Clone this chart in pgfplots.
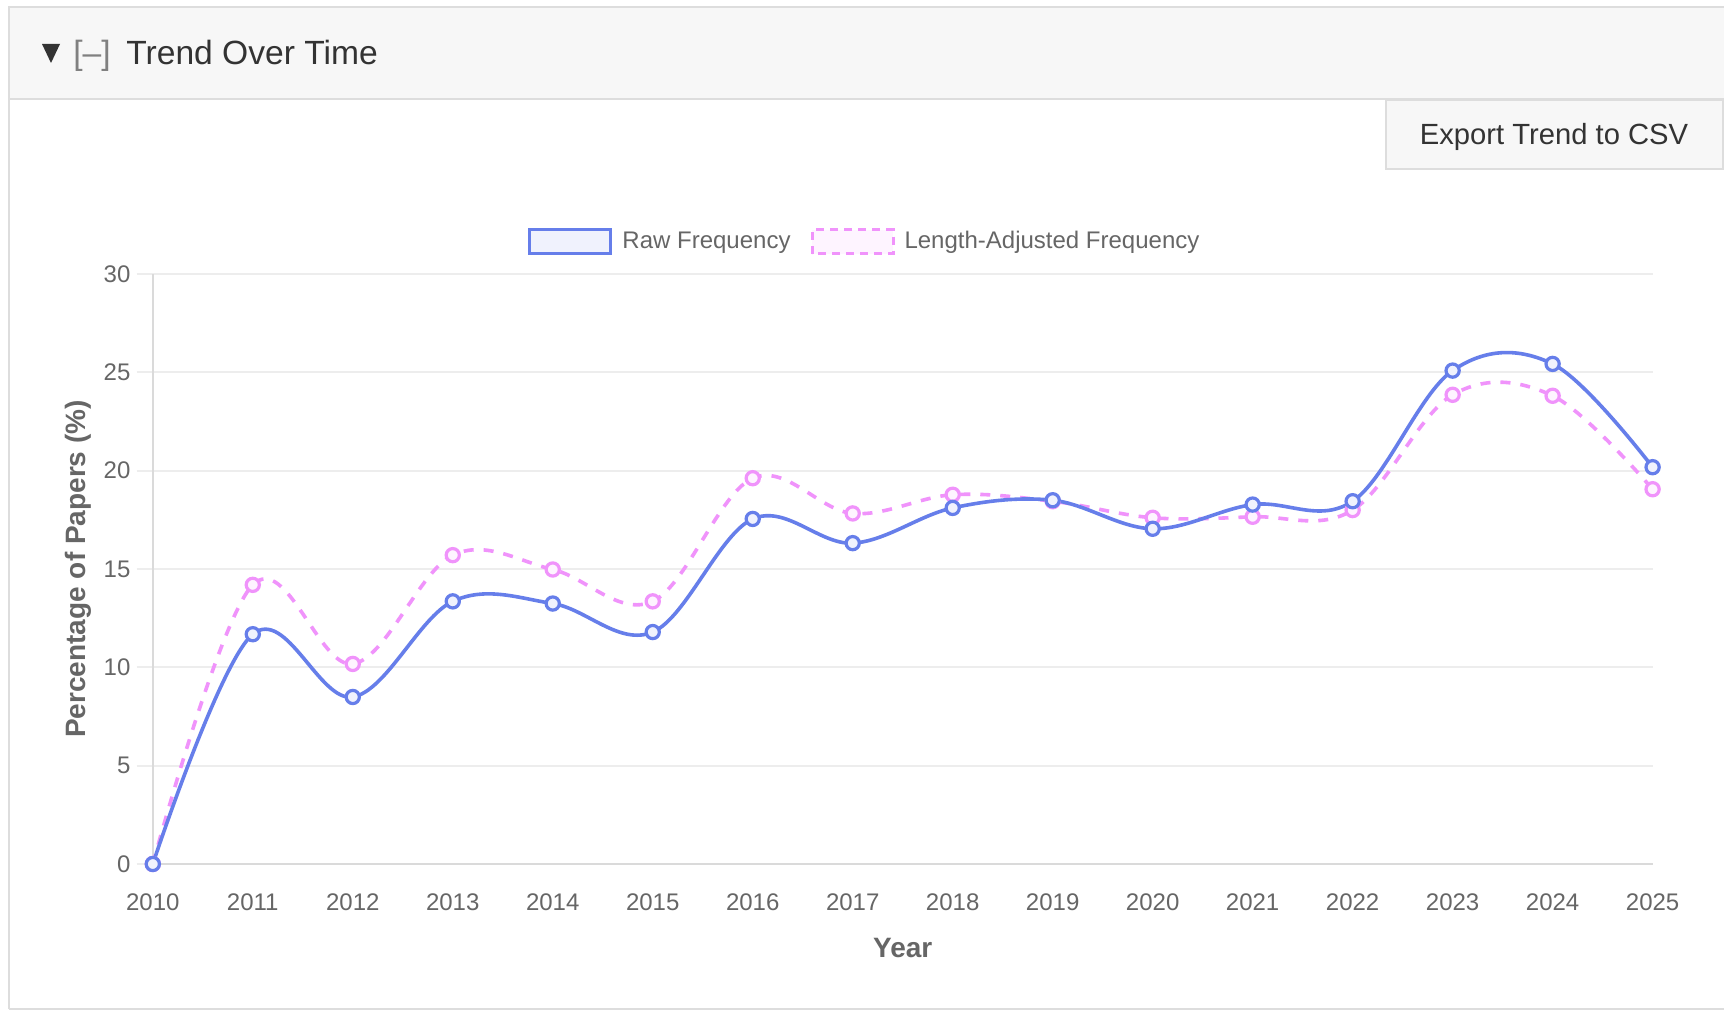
\documentclass[border=0pt]{standalone}
\usepackage{fontspec}
\setmainfont{Liberation Sans}
\usepackage{pgfplots}
\usepackage{pgfplotstable}
\pgfplotsset{compat=1.18}

\definecolor{rawc}{RGB}{102,126,234}
\definecolor{adjc}{RGB}{240,147,251}
\definecolor{rawfill}{RGB}{240,242,253}
\definecolor{adjfill}{RGB}{254,244,255}
\definecolor{txt}{HTML}{666666}
\definecolor{dark}{HTML}{333333}
\definecolor{hdr}{HTML}{F7F7F7}
\definecolor{bord}{HTML}{DDDDDD}
\definecolor{gridc}{HTML}{EDEDED}
\definecolor{axisc}{HTML}{DADADA}

% year, raw frequency, length-adjusted frequency (%)
\pgfplotstableread{
year raw   adj
2010 0.00  0.00
2011 11.68 14.19
2012 8.49  10.17
2013 13.35 15.70
2014 13.24 14.97
2015 11.79 13.35
2016 17.54 19.61
2017 16.31 17.82
2018 18.10 18.77
2019 18.49 18.44
2020 17.04 17.60
2021 18.27 17.65
2022 18.44 17.99
2023 25.08 23.85
2024 25.42 23.80
2025 20.17 19.05
}\trend

\begin{document}
\begin{tikzpicture}
\useasboundingbox (0pt,0pt) rectangle (862pt,-505.5pt);
\fill[white] (0pt,0pt) rectangle (862pt,-505.5pt);

% header bar
\fill[hdr] (4.5pt,-3.5pt) rectangle (862pt,-49.5pt);
\draw[bord, line width=1pt] (4.5pt,-504.5pt) -- (4.5pt,-3.5pt) -- (862pt,-3.5pt);
\draw[bord, line width=1pt] (4.5pt,-49.5pt) -- (862pt,-49.5pt);
\draw[bord, line width=1pt] (4.5pt,-504.5pt) -- (862pt,-504.5pt);
\fill[dark] (21pt,-22pt) -- (30pt,-22pt) -- (25.5pt,-31.5pt) -- cycle;
\node[anchor=base west, inner sep=0pt, text=gray, font=\fontsize{16.8pt}{20pt}\selectfont]
  at (36.5pt,-32.5pt) {[\textendash]};
\node[anchor=base west, inner sep=0pt, text=dark, font=\fontsize{16.8pt}{20pt}\selectfont]
  at (63pt,-32.5pt) {Trend Over Time};

% export button
\filldraw[fill=hdr, draw=bord, line width=1pt] (693pt,-50pt) rectangle (861.5pt,-84.5pt);
\node[anchor=base, inner sep=0pt, text=dark, font=\fontsize{14.6pt}{17pt}\selectfont]
  at (777pt,-72.5pt) {Export Trend to CSV};

\begin{axis}[
    at={(76.4pt,-432pt)}, anchor=south west,
    scale only axis,
    width=749.9pt, height=295.1pt,
    xmin=2010, xmax=2025, ymin=0, ymax=30,
    xtick={2010,2011,...,2025},
    ytick={0,5,...,30},
    /pgf/number format/assume math mode=true,
    /pgf/number format/1000 sep={},
    axis x line*=bottom, axis y line*=left,
    axis line style={draw=axisc, line width=1pt, -},
    ymajorgrids, major grid style={draw=gridc, line width=1pt},
    tick align=outside, major tick length=8pt,
    ytick style={draw=gridc, line width=1pt},
    xtick style={draw=none},
    tick label style={text=txt, font=\fontsize{12pt}{14pt}\selectfont},
    xticklabel style={anchor=base, yshift=-15pt},
    yticklabel style={anchor=east, inner sep=0pt, xshift=-3pt},
    xlabel={Year},
    ylabel={Percentage of Papers (\%)},
    label style={text=txt, font=\fontsize{14pt}{17pt}\selectfont\bfseries},
    xlabel style={at={(axis description cs:0.5,0)}, anchor=base, yshift=-46.5pt},
    ylabel style={at={(axis description cs:-0.0452,0.5)}, anchor=base},
    legend columns=2,
    reverse legend,
    legend style={at={(axis description cs:0.4755,1.0547)}, anchor=center,
      draw=none, fill=none, text=txt, font=\fontsize{12pt}{14pt}\selectfont,
      /tikz/every odd column/.append style={column sep=3pt},
      /tikz/every even column/.append style={column sep=8pt}},
]
\addplot[smooth, tension=0.6, adjc, line width=1.8pt, dash pattern=on 5pt off 5pt,
  mark=*, mark size=3.3pt, mark options={solid, fill=adjfill, draw=adjc, line width=1.6pt},
  legend image code/.code={\draw[line width=1.5pt, adjc, fill=adjfill, dash pattern=on 4pt off 3pt]
    (0pt,-6pt) rectangle (40.5pt,6pt);}]
  table[x=year, y=adj] {\trend};
\addlegendentry{Length-Adjusted Frequency}
\addplot[smooth, tension=0.6, rawc, line width=1.8pt,
  mark=*, mark size=3.3pt, mark options={solid, fill=rawfill, draw=rawc, line width=1.6pt},
  legend image code/.code={\draw[line width=1.5pt, rawc, fill=rawfill]
    (0pt,-6pt) rectangle (40.5pt,6pt);}]
  table[x=year, y=raw] {\trend};
\addlegendentry{Raw Frequency}
\end{axis}
\end{tikzpicture}
\end{document}
